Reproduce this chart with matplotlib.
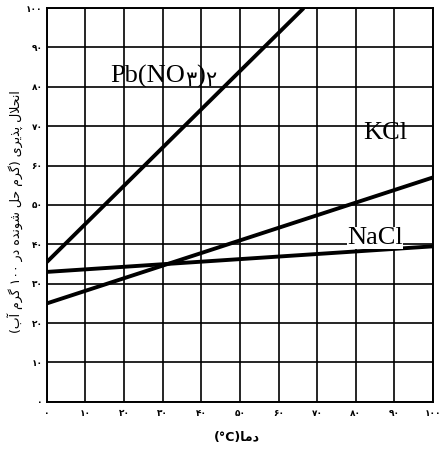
import re
import matplotlib
matplotlib.use("Agg")
import matplotlib.pyplot as plt

# values (temperature in C, grams per 100 g water)
pb_temps = [0, 66.5]
pb_sol = [35.5, 100]
kcl_temps = [0, 100]
kcl_sol = [25, 57]
nacl_temps = [0, 100]
nacl_sol = [33, 39.5]

ticks = [0, 10, 20, 30, 40, 50, 60, 70, 80, 90, 100]
fa_digits = str.maketrans("0123456789", "۰۱۲۳۴۵۶۷۸۹")
tick_labels = [str(t).translate(fa_digits) for t in ticks]

x_title = "دما(°C)"
y_title = "انحلال پذیری (گرم حل شونده در ۱۰۰ گرم آب)"

# isolated, final, initial, medial forms
FORMS = {
    'ا': ('\uFE8D', '\uFE8E', None, None),
    'آ': ('\uFE81', '\uFE82', None, None),
    'ب': ('\uFE8F', '\uFE90', '\uFE91', '\uFE92'),
    'پ': ('\uFB56', '\uFB57', '\uFB58', '\uFB59'),
    'ح': ('\uFEA1', '\uFEA2', '\uFEA3', '\uFEA4'),
    'د': ('\uFEA9', '\uFEAA', None, None),
    'ذ': ('\uFEAB', '\uFEAC', None, None),
    'ر': ('\uFEAD', '\uFEAE', None, None),
    'ش': ('\uFEB5', '\uFEB6', '\uFEB7', '\uFEB8'),
    'گ': ('\uFB92', '\uFB93', '\uFB94', '\uFB95'),
    'ل': ('\uFEDD', '\uFEDE', '\uFEDF', '\uFEE0'),
    'م': ('\uFEE1', '\uFEE2', '\uFEE3', '\uFEE4'),
    'ن': ('\uFEE5', '\uFEE6', '\uFEE7', '\uFEE8'),
    'ه': ('\uFEE9', '\uFEEA', '\uFEEB', '\uFEEC'),
    'و': ('\uFEED', '\uFEEE', None, None),
    'ی': ('\uFBFC', '\uFBFD', '\uFBFE', '\uFBFF'),
}


def shape(text):
    out = []
    i = 0
    n = len(text)
    while i < n:
        ch = text[i]
        if ch not in FORMS:
            out.append(ch)
            i += 1
            continue
        prev = text[i - 1] if i > 0 else ''
        joins_prev = prev in FORMS and FORMS[prev][2] is not None
        if ch == 'ل' and i + 1 < n and text[i + 1] == 'ا':
            out.append('\uFEFC' if joins_prev else '\uFEFB')
            i += 2
            continue
        nxt = text[i + 1] if i + 1 < n else ''
        joins_next = FORMS[ch][2] is not None and nxt in FORMS
        iso, fin, ini, med = FORMS[ch]
        if joins_prev and joins_next:
            out.append(med)
        elif joins_prev:
            out.append(fin)
        elif joins_next:
            out.append(ini)
        else:
            out.append(iso)
        i += 1
    return ''.join(out)


def visual(text):
    # rtl paragraph -> left to right glyph order
    s = shape(text)
    mirror = str.maketrans("()", ")(")
    runs = re.findall(r'[۰-۹0-9A-Za-z°]+|[^۰-۹0-9A-Za-z°]+', s)
    out = []
    for r in reversed(runs):
        if re.match(r'[۰-۹0-9A-Za-z°]', r):
            out.append(r)
        else:
            out.append(r[::-1].translate(mirror))
    return ''.join(out)


plt.rcParams['font.family'] = ['DejaVu Sans']

fig = plt.figure(figsize=(4.46, 4.50), dpi=100)
ax = fig.add_axes([0.105, 0.107, 0.866, 0.875])

ax.plot(pb_temps, pb_sol, color='black', lw=2.8, solid_capstyle='butt', zorder=3)
ax.plot(kcl_temps, kcl_sol, color='black', lw=2.8, solid_capstyle='butt', zorder=3)
ax.plot(nacl_temps, nacl_sol, color='black', lw=2.8, solid_capstyle='butt', zorder=3)

ax.set_xlim(0, 100)
ax.set_ylim(0, 100)
ax.set_xticks(ticks)
ax.set_yticks(ticks)
ax.set_xticklabels(tick_labels, fontsize=6.5, fontweight='bold')
ax.set_yticklabels(tick_labels, fontsize=6.5, fontweight='bold')
ax.tick_params(length=0, pad=5)
ax.tick_params(axis='y', pad=3)
ax.grid(True, color='black', lw=1.2)
ax.set_axisbelow(True)
for sp in ax.spines.values():
    sp.set_linewidth(1.4)

serif = ['Liberation Serif', 'DejaVu Sans']

# Pb(NO3)2 with small persian subscripts, pieces laid side by side
pieces = [("Pb(NO", 19, 0), ("۳", 15, -3), (")", 19, 0), ("۲", 15, -3)]
renderer = fig.canvas.get_renderer()
x0, y0 = ax.transData.transform((16.5, 81))
for s, size, dy in pieces:
    xd, yd = ax.transData.inverted().transform((x0, y0 + dy))
    t = ax.text(xd, yd, s, family=serif, fontsize=size, ha='left', va='baseline')
    x0 = t.get_window_extent(renderer).x1

ax.text(87.5, 68.2, "KCl", family=serif, fontsize=19, ha='center', va='center')
ax.text(85, 41.5, "NaCl", family=serif, fontsize=19, ha='center', va='center',
        bbox=dict(facecolor='white', edgecolor='none', pad=0))

fig.text(237 / 446, 1 - 437 / 450, visual(x_title), fontsize=9, fontweight='bold',
         ha='center', va='center')
fig.text(15 / 446, 1 - 212 / 450, visual(y_title), fontsize=9, rotation=90,
         ha='center', va='center')

fig.savefig('out.png', dpi=100)
